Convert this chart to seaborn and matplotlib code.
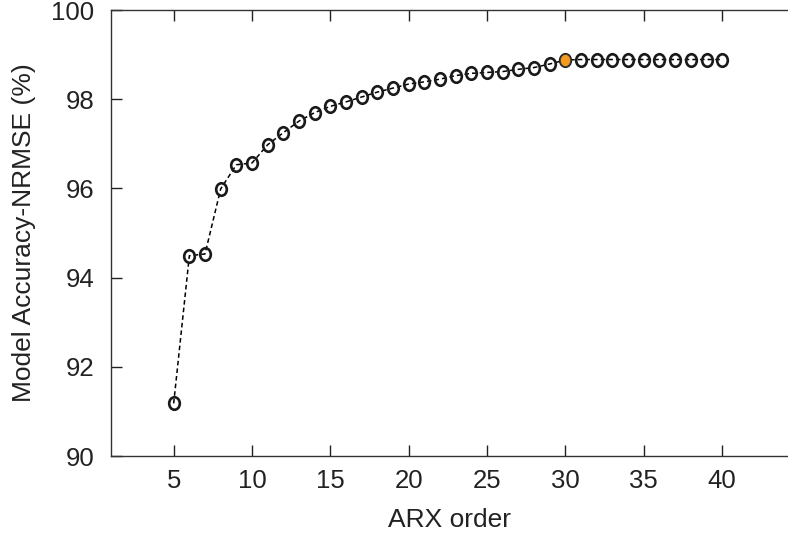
import matplotlib
matplotlib.use("Agg")
import matplotlib.pyplot as plt
import seaborn as sns
import numpy as np
import pandas as pd
from matplotlib.path import Path
from matplotlib.transforms import Affine2D

orders = list(range(5, 41))
accuracy = [91.18, 94.49, 94.53, 95.99, 96.53, 96.57, 96.98, 97.25, 97.51, 97.70,
            97.84, 97.94, 98.05, 98.16, 98.25, 98.34, 98.39, 98.45, 98.53, 98.58,
            98.60, 98.62, 98.67, 98.71, 98.79, 98.88, 98.89, 98.89, 98.89, 98.89,
            98.89, 98.89, 98.89, 98.89, 98.89, 98.89]
best_order = 30
xticks = [5, 10, 15, 20, 25, 30, 35, 40]
yticks = [90, 92, 94, 96, 98, 100]

df = pd.DataFrame({"order": orders, "acc": accuracy})
best = df[df["order"] == best_order]

sns.set_theme(style="ticks")
plt.rcParams["font.family"] = ["Liberation Sans", "DejaVu Sans"]

fig = plt.figure(figsize=(7.88, 5.35), dpi=100)
ax = fig.add_axes([111/788, 1 - 456/535, 1 - 111/788, (456 - 10)/535])

ellipse = Path.unit_circle().transformed(Affine2D().scale(0.85, 1.0))

sns.lineplot(data=df, x="order", y="acc", ax=ax, color="black",
             linewidth=1.1, marker=ellipse, markersize=9, markerfacecolor="none",
             markeredgecolor="#1a1a1a", markeredgewidth=1.9)
ax.lines[0].set_linestyle((0, (3, 2)))
sns.scatterplot(data=best, x="order", y="acc", ax=ax, marker=ellipse, s=80,
                color="#F39A1F", edgecolor="#3a3a3a", linewidth=0.8, zorder=5)

ax.set_xlim(1, 44.2)
ax.set_ylim(90, 100)
ax.set_xticks(xticks)
ax.set_yticks(yticks)
ax.tick_params(direction="in", length=8, width=1, labelsize=18.5,
               top=True, right=False, colors="#222222", labelcolor="#222222")
ax.tick_params(axis="x", pad=9)
ax.tick_params(axis="y", pad=12)
for s in ["left", "bottom", "top"]:
    ax.spines[s].set_linewidth(1)
    ax.spines[s].set_color("#333333")
ax.spines["right"].set_visible(False)
ax.set_xlabel("ARX order", fontsize=19, color="#222222", labelpad=11)
ax.set_ylabel("Model Accuracy-NRMSE (%)", fontsize=19, color="#222222", labelpad=11)

fig.savefig("out.png", dpi=100)
